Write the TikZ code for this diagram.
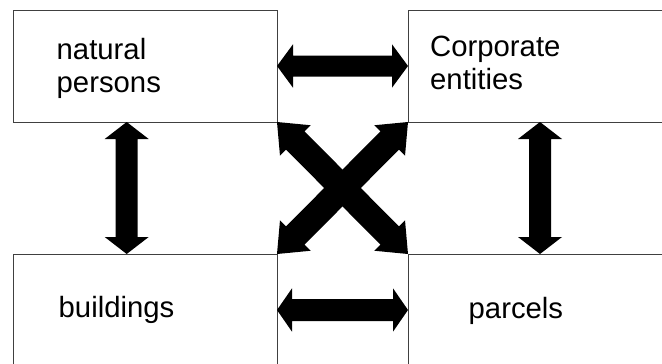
\documentclass[tikz,border=0pt]{standalone}
\usepackage{fontspec}
\setmainfont{Liberation Sans}
\usetikzlibrary{calc}

% Fat double-headed arrow between two coordinates:
% #1 from, #2 to, #3 head length, #4 head half-width, #5 shaft half-width
\newcommand\fatarrow[5]{%
  \fill[black]
    (#1) -- ($(#1)!#3!(#2)!#4!90:(#2)$) -- ($(#1)!#3!(#2)!#5!90:(#2)$)
    -- ($(#2)!#3!(#1)!#5!-90:(#1)$) -- ($(#2)!#3!(#1)!#4!-90:(#1)$)
    -- (#2) -- ($(#2)!#3!(#1)!#4!90:(#1)$) -- ($(#2)!#3!(#1)!#5!90:(#1)$)
    -- ($(#1)!#3!(#2)!#5!-90:(#2)$) -- ($(#1)!#3!(#2)!#4!-90:(#2)$) -- cycle;}

\tikzset{
  box/.style={draw=black!75, line width=0.9pt, minimum width=263.3pt,
    minimum height=112pt, anchor=north west, inner sep=0pt, outer sep=0pt},
  label/.style={anchor=base west, inner sep=0pt,
    font=\fontsize{29.3}{33.7}\selectfont}
}

\begin{document}
\begin{tikzpicture}[x=1pt, y=-1pt]
  \useasboundingbox (0,0) rectangle (662,364);
  \fill[white] (0,0) rectangle (662,364);
  \clip (0,0) rectangle (662,364);

  % the four boxes (right and bottom ones run past the page edge)
  \node[box] (np) at (13.7,10) {};
  \node[box] (ce) at (408,10) {};
  \node[box] (bu) at (13.7,254) {};
  \node[box] (pa) at (408,254) {};

  % labels
  \node[label] (np1) at (56.5,59) {natural};
  \node[label] (np2) at (56.5,92) {persons};
  \node[label] (ce1) at (430,56.5) {Corporate};
  \node[label] (ce2) at (430,89) {entities};
  \node[label] (bu1) at (58.5,317.5) {buildings};
  \node[label] (pa1) at (468.5,318) {parcels};

  % arrow end points
  \coordinate (vla) at ([xshift=113pt]np.south west);
  \coordinate (vlb) at ([xshift=113pt]bu.north west);
  \coordinate (vra) at ([xshift=132pt]ce.south west);
  \coordinate (vrb) at ([xshift=132pt]pa.north west);

  % connectors
  \fatarrow{np.east}{ce.west}{16pt}{21.7pt}{10.5pt}
  \fatarrow{bu.east}{pa.west}{15pt}{21.7pt}{11pt}
  \fatarrow{vla}{vlb}{17pt}{22pt}{11pt}
  \fatarrow{vra}{vrb}{17pt}{22pt}{11pt}
  \fatarrow{np.south east}{pa.north west}{26pt}{21.6pt}{13pt}
  \fatarrow{ce.south west}{bu.north east}{26pt}{21.6pt}{13pt}
\end{tikzpicture}
\end{document}
